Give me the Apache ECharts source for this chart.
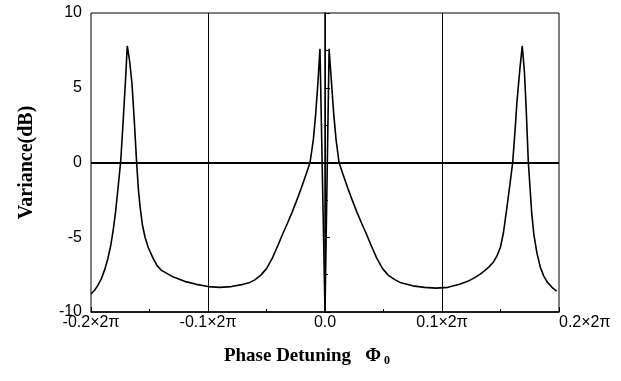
<!DOCTYPE html>
<html>
<head>
<meta charset="utf-8">
<script src="https://cdn.jsdelivr.net/npm/echarts@6/dist/echarts.min.js"></script>
<style>html,body{margin:0;padding:0;background:#fff}#c{width:621px;height:381px}</style>
</head>
<body>
<div id="c"></div>
<script>
// x in units of 2π, y in dB
const xVals = [-0.200,-0.197,-0.194,-0.191,-0.188,-0.1855,-0.183,-0.181,-0.179,-0.177,-0.1755,-0.1745,-0.1725,-0.1705,-0.169,-0.167,-0.165,-0.163,-0.161,-0.1595,-0.158,-0.156,-0.1538,-0.151,-0.147,-0.1435,-0.140,-0.130,-0.120,-0.110,-0.100,-0.090,-0.080,-0.070,-0.065,-0.060,-0.055,-0.050,-0.045,-0.040,-0.036,-0.032,-0.028,-0.024,-0.020,-0.016,-0.0128,-0.010,-0.008,-0.006,-0.0043,0.0,0.0035,0.0055,0.0075,0.0095,0.012,0.0152,0.0192,0.0232,0.0272,0.0312,0.0352,0.0392,0.0442,0.0492,0.0542,0.060,0.065,0.075,0.085,0.095,0.105,0.115,0.122,0.128,0.133,0.137,0.140,0.144,0.147,0.150,0.1525,0.1555,0.158,0.1604,0.1625,0.164,0.1665,0.1686,0.1705,0.172,0.1738,0.1755,0.1767,0.1785,0.181,0.184,0.187,0.190,0.194,0.198];
const yVals = [-8.8,-8.55,-8.2,-7.75,-7.1,-6.4,-5.5,-4.5,-3.3,-1.8,-0.6,0.2,2.8,5.5,7.8,6.8,5.3,2.8,0.0,-1.8,-3.0,-4.2,-5.0,-5.7,-6.4,-6.9,-7.2,-7.65,-7.95,-8.15,-8.3,-8.35,-8.3,-8.15,-8.05,-7.85,-7.55,-7.1,-6.4,-5.5,-4.75,-4.05,-3.3,-2.5,-1.65,-0.75,0.0,1.5,3.2,5.4,7.6,-10.0,7.6,5.4,3.2,1.5,0.0,-0.75,-1.65,-2.5,-3.3,-4.05,-4.75,-5.5,-6.4,-7.1,-7.55,-7.85,-8.05,-8.25,-8.35,-8.4,-8.35,-8.15,-7.95,-7.7,-7.45,-7.2,-7.0,-6.65,-6.25,-5.65,-4.7,-3.0,-1.5,0.0,2.2,4.0,6.2,7.8,6.0,3.5,0.0,-2.0,-3.4,-4.8,-6.0,-7.0,-7.6,-8.0,-8.35,-8.6];
const xTicks = {'-0.2':'-0.2×2π','-0.1':'-0.1×2π','0':'0.0','0.1':'0.1×2π','0.2':'0.2×2π'};
const gridX = [-0.1, 0, 0.1];
const gridY = [0];

const data = xVals.map((x,i)=>[x,yVals[i]]);
const chart = echarts.init(document.getElementById('c'), null, {renderer:'canvas'});
const lab = {color:'#000', fontFamily:'Liberation Sans, Arial, sans-serif', fontSize:16};
chart.setOption({
  animation:false,
  backgroundColor:'#fff',
  grid:{left:91,right:62,top:13,bottom:69,show:true,borderColor:'#000',borderWidth:1,backgroundColor:'transparent'},
  xAxis:{
    type:'value',min:-0.2,max:0.2,interval:0.1,
    axisLine:{onZero:false,lineStyle:{color:'#000',width:1.5}},
    axisTick:{inside:true,length:5,lineStyle:{color:'#000'}},
    minorTick:{show:true,splitNumber:2,length:3,lineStyle:{color:'#000'}},
    splitLine:{show:false},
    axisLabel:Object.assign({margin:3,alignMaxLabel:'left',formatter:v=>{const k=String(Math.round(v*10)/10);return xTicks[k]!==undefined?xTicks[k]:'';}},lab),
    name:'Phase Detuning   {phi|Φ}{sub|0}',nameLocation:'middle',nameGap:34,
    nameTextStyle:{color:'#000',fontFamily:'Liberation Serif, Times New Roman, serif',fontWeight:'bold',fontSize:19,padding:[0,36,0,0],
      rich:{phi:{fontFamily:'Liberation Serif, serif',fontWeight:'bold',fontSize:19,color:'#000'},sub:{fontFamily:'Liberation Serif, serif',fontWeight:'bold',fontSize:12,color:'#000',padding:[9,0,0,3]}}}
  },
  yAxis:{
    type:'value',min:-10,max:10,interval:5,
    axisLine:{lineStyle:{color:'#000',width:1.5}},
    axisTick:{inside:true,length:5,lineStyle:{color:'#000'}},
    minorTick:{show:true,splitNumber:2,length:3,lineStyle:{color:'#000'}},
    splitLine:{show:false},
    axisLabel:Object.assign({margin:9},lab),
    name:'Variance(dB)',nameLocation:'middle',nameGap:54,nameRotate:90,
    nameTextStyle:{color:'#000',fontFamily:'Liberation Serif, Times New Roman, serif',fontWeight:'bold',fontSize:20}
  },
  series:[{
    type:'line',data:data,showSymbol:false,symbol:'none',smooth:false,
    lineStyle:{color:'#000',width:1.6},
    markLine:{silent:true,symbol:'none',label:{show:false},
      data:gridX.map(v=>({xAxis:v,lineStyle:{color:'#000',width:1,type:'solid'}})).concat(gridY.map(v=>({yAxis:v,lineStyle:{color:'#000',width:1.8,type:'solid'}})))
    }
  }]
});
</script>
</body>
</html>
